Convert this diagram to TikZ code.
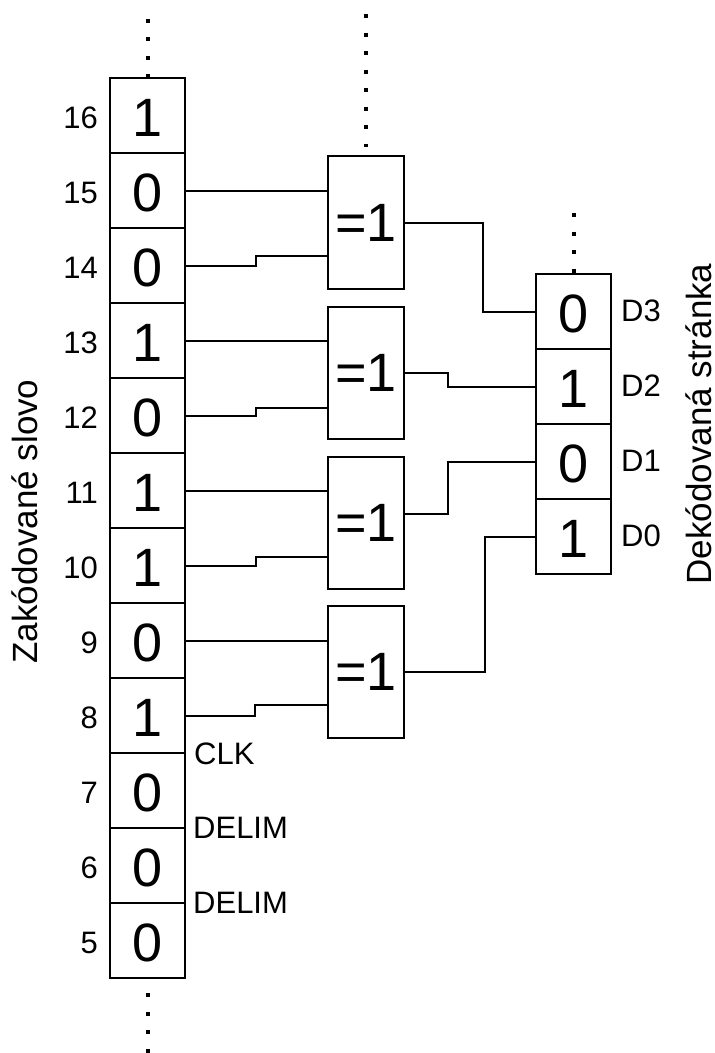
\documentclass[tikz,border=0pt]{standalone}
\usepackage{fontspec}
\setmainfont{Liberation Sans}
\usetikzlibrary{calc}
\tikzset{
  bitcell/.style={draw, line width=2pt, minimum width=75pt, minimum height=75pt, inner sep=0pt,
    font=\fontsize{54}{54}\selectfont, text height=45pt, text depth=2.4pt},
  xorgate/.style={draw, line width=2pt, minimum width=76pt, minimum height=132.5pt, inner sep=0pt,
    font=\fontsize{54}{54}\selectfont},
  lbl/.style={inner sep=0pt, font=\fontsize{31}{31}\selectfont},
  wire/.style={line width=2pt},
  dotline/.style={line width=4pt, dash pattern=on 4pt off 14.5pt},
  sidelbl/.style={inner sep=0pt, rotate=90, anchor=base, font=\fontsize{35}{35}\selectfont}
}
\begin{document}
\begin{tikzpicture}[x=1pt, y=-1pt]
\useasboundingbox (0,0) rectangle (715,1053);

% encoded word register
\foreach \n/\v in {16/1,15/0,14/0,13/1,12/0,11/1,10/1,9/0,8/1,7/0,6/0,5/0} {
  \node[bitcell] (c\n) at (147.5, {115.5+(16-\n)*75}) {\v};
  \node[lbl, anchor=east] (n\n) at (98, {118+(16-\n)*75}) {\n};
}

% decoded page register
\foreach \n/\v/\i in {3/0/0,2/1/1,1/0/2,0/1/3} {
  \node[bitcell] (r\n) at (573.5, {311.5+\i*75}) {\v};
  \node[lbl, anchor=west] (d\n) at (621, {311+\i*75}) {D\n};
}

% XOR gates
\node[xorgate] (g1) at (366,222.5) {=1};
\node[xorgate] (g2) at (366,373) {=1};
\node[xorgate] (g3) at (366,523) {=1};
\node[xorgate] (g4) at (366,672) {=1};

% gate inputs
\draw[wire] (c15.east) -- (c15.east -| g1.west);
\draw[wire] (c14.east) -| (256,256) -- (g1.west |- 0,256);
\draw[wire] (c13.east) -- (c13.east -| g2.west);
\draw[wire] (c12.east) -| (256,408) -- (g2.west |- 0,408);
\draw[wire] (c11.east) -- (c11.east -| g3.west);
\draw[wire] (c10.east) -| (256,557) -- (g3.west |- 0,557);
\draw[wire] (c9.east) -- (c9.east -| g4.west);
\draw[wire] (c8.east) -| (255,705) -- (g4.west |- 0,705);

% gate outputs
\draw[wire] (g1.east) -| ($(r3.west)+(-52,0)$) -- (r3.west);
\draw[wire] (g2.east) -| ($(r2.west)+(-87,0)$) -- (r2.west);
\draw[wire] ($(g3.east)+(0,-9.5)$) -| ($(r1.west)+(-87,0)$) -- (r1.west);
\draw[wire] (g4.east) -| ($(r0.west)+(-50,0)$) -- (r0.west);

% continuation dots
\draw[dotline] (147.5,18.7) -- (c16.north);
\draw[dotline] (366,14) -- ($(g1.north)+(0,-8)$);
\draw[dotline] (573.5,213) -- (r3.north);
\draw[dotline] ($(c5.south)+(0,14)$) -- ++(0,60);

% labels
\node[lbl, anchor=west] (clk) at (194,754) {CLK};
\node[lbl, anchor=west] (del1) at (193,828) {DELIM};
\node[lbl, anchor=west] (del2) at (193,903) {DELIM};

\node[sidelbl] (zs) at (37,521.5) {Zakódované slovo};
\node[sidelbl] (ds) at (711,424) {Dekódovaná stránka};
\end{tikzpicture}
\end{document}
